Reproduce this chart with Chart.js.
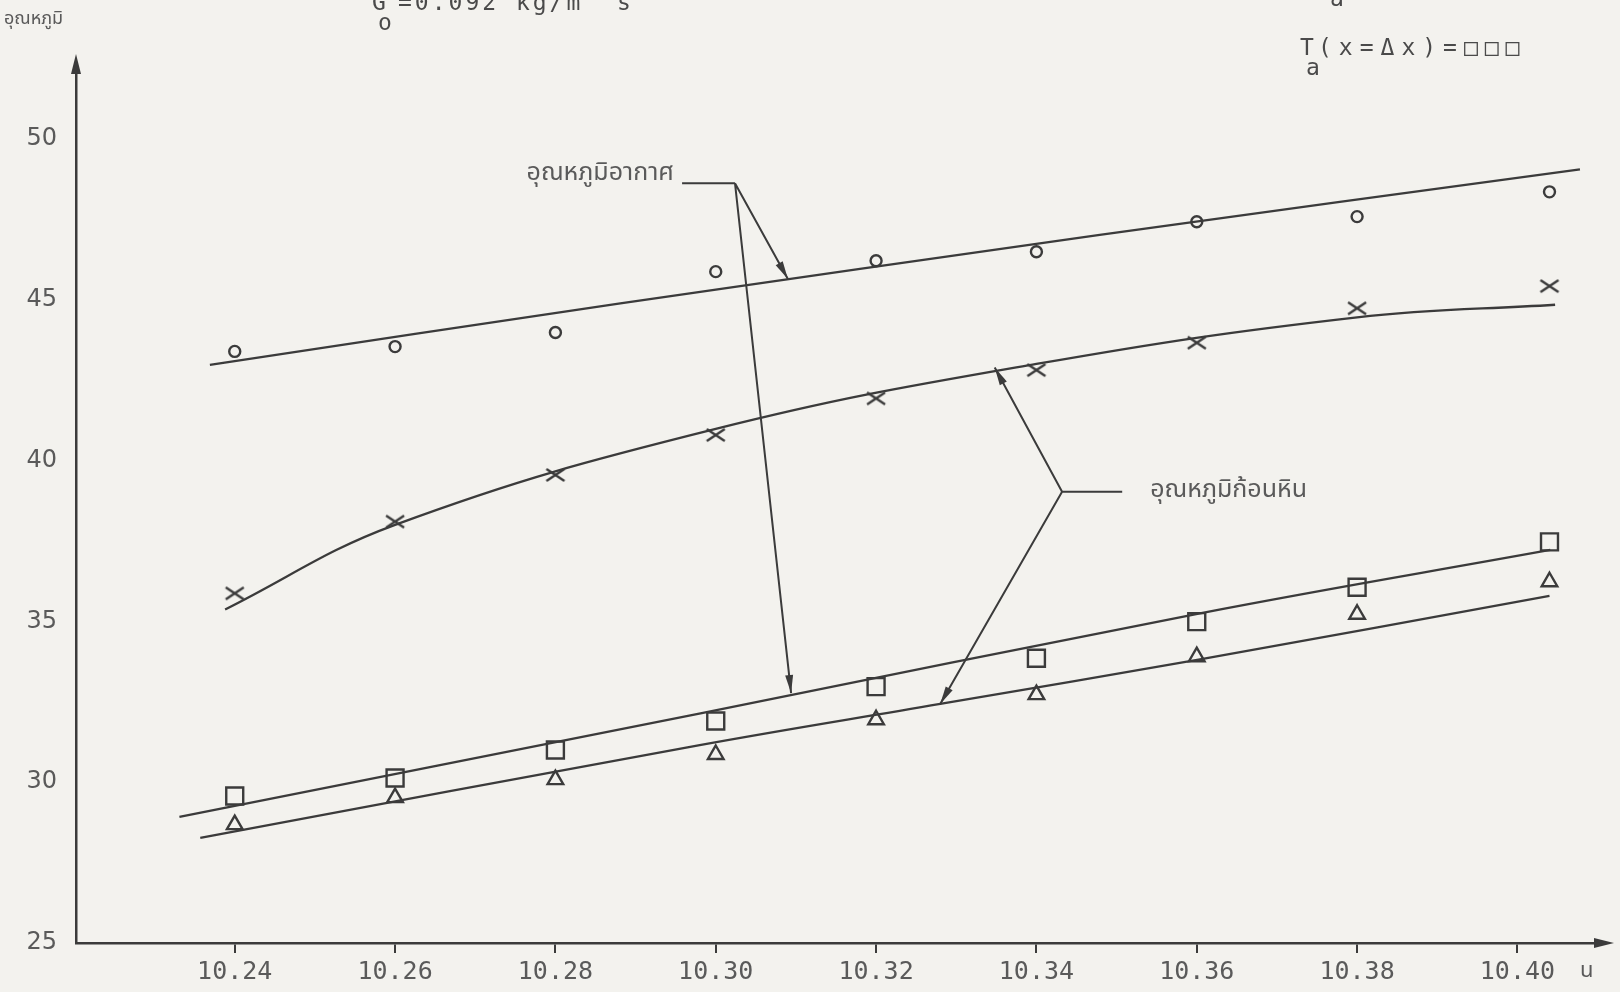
<!DOCTYPE html>
<html>
<head>
<meta charset="utf-8">
<script src="https://cdn.jsdelivr.net/npm/chart.js@4.4.0/dist/chart.umd.min.js"></script>
<style>
  html, body { margin: 0; padding: 0; background: #f3f2ee; }
</style>
</head>
<body>
<canvas id="canvas" width="1620" height="992"></canvas>
<script>
// เวลา (นาฬิกา) - the last reading sits a little past the 10.40 tick
const times = [10.24, 10.26, 10.28, 10.30, 10.32, 10.34, 10.36, 10.38, 10.404];
const xTicks = [10.24, 10.26, 10.28, 10.30, 10.32, 10.34, 10.36, 10.38, 10.40];
const yTicks = [25, 30, 35, 40, 45, 50];

// อุณหภูมิอากาศ (o and x)
const airCircle = [43.39, 43.54, 43.98, 45.87, 46.21, 46.49, 47.42, 47.58, 48.35];
const airCross = [35.87, 38.10, 39.55, 40.79, 41.93, 42.81, 43.66, 44.73, 45.42];
// อุณหภูมิก้อนหิน (square and triangle)
const rockSquare = [29.57, 30.13, 31.0, 31.9, 32.97, 33.85, 34.99, 36.06, 37.47];
const rockTriangle = [28.68, 29.52, 30.08, 30.86, 31.94, 32.72, 33.9, 35.22, 36.23];

// hand drawn curves through the points
const curveCircleX = [10.2369, 10.2881, 10.3479, 10.4078];
const curveCircleY = [42.97, 44.88, 47.01, 49.05];
const curveCrossX = [10.2388, 10.26, 10.30, 10.34, 10.38, 10.4047];
const curveCrossY = [35.37, 38.0, 40.98, 43.0, 44.45, 44.84];
const curveSquareX = [10.2331, 10.2981, 10.3604, 10.4041];
const curveSquareY = [28.92, 32.14, 35.25, 37.22];
const curveTriangleX = [10.2357, 10.2980, 10.3280, 10.3604, 10.4040];
const curveTriangleY = [28.27, 31.15, 32.43, 33.82, 35.79];

const ink = '#3b3b3b';
const soft = '#5a5a5a';
const thai = '"Noto Sans Thai", "Noto Sans Thai Looped", "Noto Sans", "DejaVu Sans", sans-serif';
const mono = '"DejaVu Sans Mono", "Liberation Mono", monospace';

// leader notes, in data units
const airNote = { label: 'อุณหภูมิอากาศ', bar: [[10.2958, 48.62], [10.3024, 48.62]], tips: [[10.3090, 45.64], [10.3094, 32.77]] };
const rockNote = { label: 'อุณหภูมิก้อนหิน', bar: [[10.3432, 39.03], [10.3507, 39.03]], tips: [[10.3348, 42.89], [10.3280, 32.43]] };

function pts(xs, ys) {
  return xs.map((x, i) => ({ x: x, y: ys[i] }));
}

// flat x mark like the typed one on the sheet
function crossMark() {
  const c = document.createElement('canvas');
  c.width = 22; c.height = 16;
  const g = c.getContext('2d');
  g.strokeStyle = ink;
  g.lineWidth = 2.4;
  g.beginPath();
  g.moveTo(2, 2); g.lineTo(20, 14);
  g.moveTo(2, 14); g.lineTo(20, 2);
  g.stroke();
  return c;
}

function markerSet(values, style, radius) {
  return {
    type: 'line',
    data: pts(times, values),
    showLine: false,
    pointStyle: style,
    pointRadius: radius,
    pointBorderWidth: 2.4,
    pointBorderColor: ink,
    pointBackgroundColor: 'rgba(0,0,0,0)',
  };
}

function curveSet(xs, ys, tension) {
  return {
    type: 'line',
    data: pts(xs, ys),
    borderColor: ink,
    borderWidth: 2.3,
    pointRadius: 0,
    tension: tension,
    fill: false,
  };
}

function arrowHead(ctx, fx, fy, tx, ty, len, half) {
  const a = Math.atan2(ty - fy, tx - fx);
  ctx.beginPath();
  ctx.moveTo(tx, ty);
  ctx.lineTo(tx - len * Math.cos(a) + half * Math.sin(a), ty - len * Math.sin(a) - half * Math.cos(a));
  ctx.lineTo(tx - len * Math.cos(a) - half * Math.sin(a), ty - len * Math.sin(a) + half * Math.cos(a));
  ctx.closePath();
  ctx.fill();
}

const paper = {
  id: 'paper',
  beforeDraw(chart) {
    const ctx = chart.ctx;
    ctx.save();
    ctx.fillStyle = '#f3f2ee';
    ctx.fillRect(0, 0, chart.width, chart.height);
    ctx.restore();
  },
  afterDraw(chart) {
    const ctx = chart.ctx;
    const sx = chart.scales.x, sy = chart.scales.y;
    const area = chart.chartArea;
    const px = v => sx.getPixelForValue(v);
    const py = v => sy.getPixelForValue(v);
    ctx.save();
    ctx.fillStyle = ink;
    ctx.strokeStyle = ink;

    // axis arrows
    arrowHead(ctx, area.left, area.top + 10, area.left, area.top - 14, 20, 5);
    ctx.lineWidth = 2.5;
    ctx.beginPath();
    ctx.moveTo(area.left, area.top); ctx.lineTo(area.left, area.top - 6);
    ctx.moveTo(area.right, area.bottom); ctx.lineTo(area.right + 6, area.bottom);
    ctx.stroke();
    arrowHead(ctx, area.right - 10, area.bottom, area.right + 14, area.bottom, 20, 5);

    // leader lines
    ctx.lineWidth = 2;
    [airNote, rockNote].forEach((n, k) => {
      const b0 = [px(n.bar[0][0]), py(n.bar[0][1])];
      const b1 = [px(n.bar[1][0]), py(n.bar[1][1])];
      const hub = k === 0 ? b1 : b0;
      ctx.beginPath();
      ctx.moveTo(b0[0], b0[1]); ctx.lineTo(b1[0], b1[1]);
      n.tips.forEach(t => {
        ctx.moveTo(hub[0], hub[1]);
        ctx.lineTo(px(t[0]), py(t[1]));
      });
      ctx.stroke();
      n.tips.forEach(t => arrowHead(ctx, hub[0], hub[1], px(t[0]), py(t[1]), 18, 4));

      ctx.fillStyle = soft;
      ctx.font = '25px ' + thai;
      ctx.textBaseline = 'middle';
      if (k === 0) {
        ctx.textAlign = 'right';
        ctx.fillText(n.label, b0[0] - 8, b0[1] - 8);
      } else {
        ctx.textAlign = 'left';
        ctx.fillText(n.label, b1[0] + 28, b1[1]);
      }
      ctx.fillStyle = ink;
    });

    // axis captions
    ctx.fillStyle = soft;
    ctx.textBaseline = 'middle';
    ctx.textAlign = 'left';
    ctx.font = '18px ' + thai;
    ctx.fillText('อุณหภูมิ', 4, 20);
    ctx.font = '22px ' + thai;
    ctx.fillText('น', area.right - 20, area.bottom + 30);

    // typed notes at the top (cut by the page edge)
    ctx.fillStyle = '#4a4a4a';
    ctx.textBaseline = 'alphabetic';
    ctx.font = '23px ' + mono;
    if ('letterSpacing' in ctx) ctx.letterSpacing = '3px';
    ctx.fillText('G', 372, 10);
    ctx.fillText('o', 378, 30);
    ctx.fillText('=0.092 kg/m  s', 398, 10);
    ctx.fillText('a', 1330, 6);
    ctx.fillText('T', 1300, 55);
    ctx.fillText('a', 1306, 75);
    if ('letterSpacing' in ctx) ctx.letterSpacing = '7px';
    ctx.fillText('(x=\u0394x)=\u25A1\u25A1\u25A1', 1318, 55);
    ctx.restore();
  }
};

const ctx = document.getElementById('canvas');
new Chart(ctx, {
  type: 'line',
  data: {
    datasets: [
      curveSet(curveCircleX, curveCircleY, 0.4),
      curveSet(curveCrossX, curveCrossY, 0.4),
      curveSet(curveSquareX, curveSquareY, 0.4),
      curveSet(curveTriangleX, curveTriangleY, 0.4),
      markerSet(airCircle, 'circle', 5.5),
      markerSet(airCross, crossMark(), 8),
      markerSet(rockSquare, 'rect', 12),
      markerSet(rockTriangle, 'triangle', 9),
    ],
  },
  options: {
    responsive: false,
    animation: false,
    layout: { padding: { top: 68, right: 20, left: 0, bottom: 0 } },
    plugins: { legend: { display: false }, tooltip: { enabled: false } },
    scales: {
      x: {
        type: 'linear',
        min: 10.2202,
        max: 10.4103,
        afterBuildTicks: s => { s.ticks = xTicks.map(v => ({ value: v })); },
        afterFit: s => { s.height = 49; },
        grid: { display: true, drawOnChartArea: false, drawTicks: true, tickLength: 10, color: ink, lineWidth: 2 },
        border: { display: true, color: ink, width: 2.5 },
        ticks: {
          padding: 4,
          color: soft,
          autoSkip: false,
          maxRotation: 0,
          font: { family: mono, size: 25 },
          callback: v => v.toFixed(2),
        },
      },
      y: {
        type: 'linear',
        min: 25,
        max: 52.2,
        afterBuildTicks: s => { s.ticks = yTicks.map(v => ({ value: v })); },
        afterFit: s => { s.width = 76; },
        grid: { display: false, drawTicks: false },
        border: { display: true, color: ink, width: 2.5 },
        ticks: {
          padding: 19,
          color: soft,
          font: { family: '"DejaVu Sans", sans-serif', size: 24 },
          callback: v => String(v),
        },
      },
    },
  },
  plugins: [paper],
});
</script>
</body>
</html>
